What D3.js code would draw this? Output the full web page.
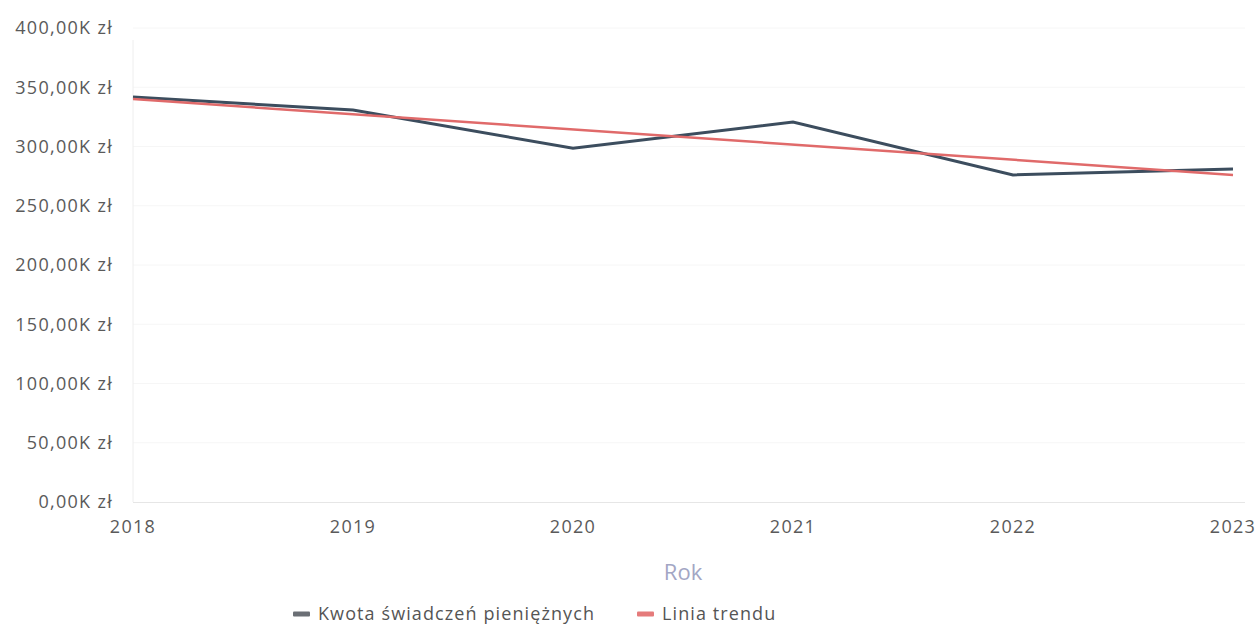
<!DOCTYPE html>
<html>
<head>
<meta charset="utf-8">
<script src="https://cdn.jsdelivr.net/npm/d3@7"></script>
<style>
  body { margin: 0; background: #fff; }
  text { font-family: "Open Sans", "Noto Sans", sans-serif; }
</style>
</head>
<body>
<svg width="1259" height="627"></svg>
<script>
// data (thousands of zł)
const years = [2018, 2019, 2020, 2021, 2022, 2023];
const amounts = [341.8, 330.8, 298.5, 320.7, 276.0, 281.0];
const trendYears = [2018, 2023];
const trendValues = [340.0, 276.0];
const yTicks = [0, 50, 100, 150, 200, 250, 300, 350, 400];

let svg = d3.select('svg');

let x = d3.scaleLinear()
  .domain([2018, 2023])
  .range([133, 1233]);

let y = d3.scaleLinear()
  .domain([0, 400])
  .range([502, 28]);

let fmt = v => d3.format('.2f')(v).replace('.', ',') + 'K zł';

// faint grid
svg.append('g')
  .selectAll('line')
  .data(yTicks.slice(1))
  .enter()
  .append('line')
  .attr('x1', 133)
  .attr('x2', 1245)
  .attr('y1', d => y(d))
  .attr('y2', d => y(d))
  .attr('stroke', '#f6f6f6')
  .attr('stroke-width', 1);

// left axis line and baseline
svg.append('line')
  .attr('x1', 133).attr('x2', 133)
  .attr('y1', 40).attr('y2', 502)
  .attr('stroke', '#eeeeee');
svg.append('line')
  .attr('x1', 133).attr('x2', 1245)
  .attr('y1', 502.5).attr('y2', 502.5)
  .attr('stroke', '#e6e6e6');

// y labels
svg.append('g')
  .selectAll('text')
  .data(yTicks)
  .enter()
  .append('text')
  .attr('x', 113)
  .attr('y', d => y(d))
  .attr('dy', '0.35em')
  .attr('text-anchor', 'end')
  .attr('font-size', 18)
  .attr('letter-spacing', 1.3)
  .attr('fill', '#5a5a5a')
  .text(fmt);

// x labels
svg.append('g')
  .selectAll('text')
  .data(years)
  .enter()
  .append('text')
  .attr('x', d => x(d))
  .attr('y', 527)
  .attr('dy', '0.35em')
  .attr('text-anchor', 'middle')
  .attr('font-size', 18)
  .attr('letter-spacing', 1.3)
  .attr('fill', '#5a5a5a')
  .text(d => d);

// axis title
svg.append('text')
  .attr('x', 683)
  .attr('y', 572)
  .attr('dy', '0.35em')
  .attr('text-anchor', 'middle')
  .attr('font-size', 22)
  .attr('fill', '#a3a6c4')
  .text('Rok');

let line = d3.line()
  .x(d => x(d[0]))
  .y(d => y(d[1]));

// data line
svg.append('path')
  .datum(years.map((yr, i) => [yr, amounts[i]]))
  .attr('d', line)
  .attr('fill', 'none')
  .attr('stroke', '#3c4d5e')
  .attr('stroke-width', 3);

// trend line
svg.append('path')
  .datum(trendYears.map((yr, i) => [yr, trendValues[i]]))
  .attr('d', line)
  .attr('fill', 'none')
  .attr('stroke', '#e06a6a')
  .attr('stroke-width', 2.5);

// legend
let legend = [
  { label: 'Kwota świadczeń pieniężnych', color: '#6b6f75', x: 293 },
  { label: 'Linia trendu', color: '#e57b7b', x: 637 }
];
let lg = svg.append('g')
  .selectAll('g')
  .data(legend)
  .enter()
  .append('g')
  .attr('transform', d => `translate(${d.x},614)`);
lg.append('rect')
  .attr('x', 0).attr('y', -2.5)
  .attr('width', 17).attr('height', 5)
  .attr('rx', 1)
  .attr('fill', d => d.color);
lg.append('text')
  .attr('x', 25)
  .attr('dy', '0.35em')
  .attr('font-size', 18)
  .attr('letter-spacing', 1.1)
  .attr('fill', '#555')
  .text(d => d.label);
</script>
</body>
</html>
